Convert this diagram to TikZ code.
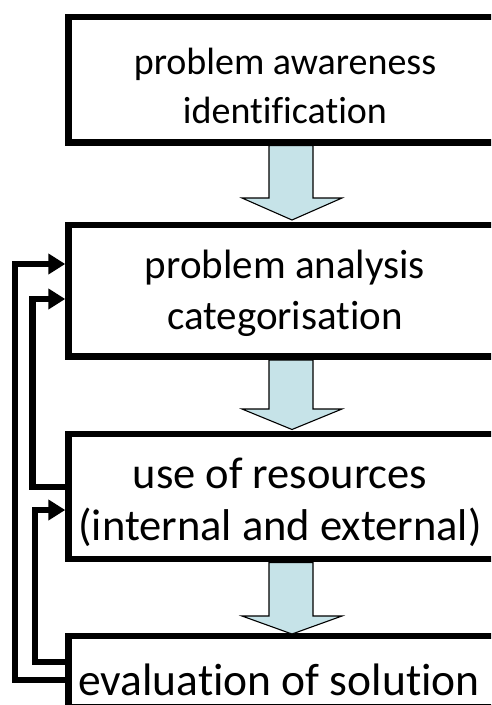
\documentclass[tikz,border=0pt]{standalone}
\usepackage{fontspec}
\setmainfont{Carlito}[Ligatures=NoCommon]
\usetikzlibrary{arrows.meta,calc}
\definecolor{arrowfill}{RGB}{198,227,232}
\tikzset{
  stepbox/.style={draw=black, line width=6.5pt, inner sep=0pt, outer sep=0pt, fill=white},
  lbl/.style={anchor=base, inner sep=0pt, outer sep=0pt},
  fb/.style={draw=black, line width=6.5pt, line join=miter, -{Triangle[length=17pt,width=20pt]}},
  blockarrow/.style={draw=black, line width=1.1pt, fill=arrowfill, line join=miter},
}
\newcommand{\mytxt}[2]{{\fontsize{#1}{#1}\selectfont #2}}
\begin{document}
\begin{tikzpicture}[x=1pt,y=-1pt]
\useasboundingbox (0,0) rectangle (491,705);
\fill[white] (0,0) rectangle (491,705);
\clip (0,0) rectangle (491,705);
% boxes
\node[stepbox, minimum width=431.5pt, minimum height=125.5pt] (b1) at (284.25,79.75) {};
\node[stepbox, minimum width=431.5pt, minimum height=131.5pt] (b2) at (284.25,290.75) {};
\node[stepbox, minimum width=431.5pt, minimum height=125pt] (b3) at (284.25,496.5) {};
\node[stepbox, minimum width=431.5pt, minimum height=71pt] (b4) at (284.25,671.5) {};
% texts
\node[lbl] (t1a) at (285,74) {\mytxt{38}{problem awareness}};
\node[lbl] (t1b) at (285,123) {\mytxt{38}{identification}};
\node[lbl] (t2a) at (285,278) {\mytxt{41}{problem analysis}};
\node[lbl] (t2b) at (285,329) {\mytxt{41}{categorisation}};
\node[lbl] (t3a) at (280,488) {\mytxt{44.5}{use of resources}};
\node[lbl] (t3b) at (280,540) {\mytxt{44.5}{(internal and external)}};
\node[lbl] (t4) at (279,695) {\mytxt{45.5}{evaluation of solution}};
% block arrows
\draw[blockarrow] (269,145.5) -- (313,145.5) -- (313,198) -- (342,198) -- (292,220) -- (242,198) -- (269,198) -- cycle;
\draw[blockarrow] (269,360) -- (313,360) -- (313,409) -- (342,409) -- (292,429.5) -- (242,409) -- (269,409) -- cycle;
\draw[blockarrow] (269,562.5) -- (313,562.5) -- (313,616) -- (342,616) -- (292,634) -- (242,616) -- (269,616) -- cycle;
% feedback connectors
\draw[fb] ($(b4.west)+(0,8.5)$) -- (15,680) -- (15,264) -- ($(b2.west)+(-3.25,-26.75)$);
\draw[fb] ($(b3.west)+(0,-9.5)$) -- (32.5,487) -- (32.5,299) -- ($(b2.west)+(-3.25,8.25)$);
\draw[fb] ($(b4.west)+(0,-9.5)$) -- (35,662) -- (35,510) -- ($(b3.west)+(-3.25,13.5)$);
\end{tikzpicture}
\end{document}
